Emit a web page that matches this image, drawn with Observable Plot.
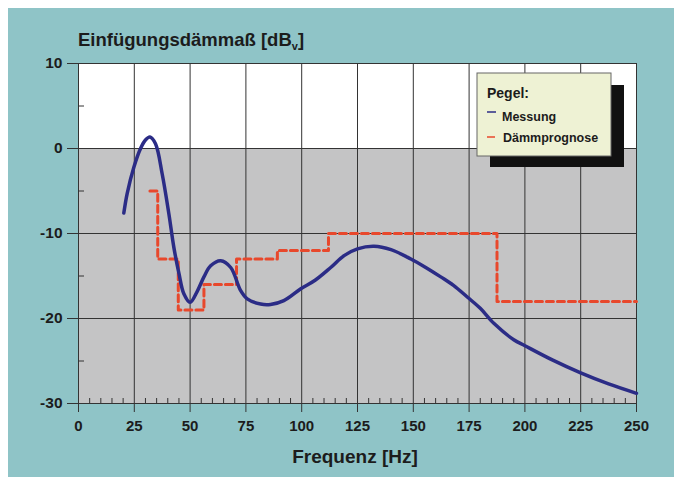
<!DOCTYPE html>
<html><head><meta charset="utf-8">
<script src="https://cdn.jsdelivr.net/npm/d3@7"></script>
<script src="https://cdn.jsdelivr.net/npm/@observablehq/plot@0.6"></script>
<style>
body{margin:0;background:#ffffff;}
#chart{position:relative;width:674px;height:477px;}
</style>
</head><body><div id="chart"></div>
<script>
const messungHz = [20.3, 21.8, 24.8, 27.8, 30, 32, 34.5, 37.5, 40.5, 42.7, 45, 47.2, 50, 53.2, 56.2, 59.2, 63.7, 68.2, 72.6, 75.6, 81.6, 86, 92, 99.6, 106, 113, 119, 125, 132.4, 140, 148.9, 155, 162.3, 168, 174.3, 180, 186.2, 195, 200, 212.5, 225, 237.5, 250];
const messungDb = [-7.6, -5.3, -2.2, 0, 1.0, 1.35, 0.55, -3, -7.7, -11.6, -14.7, -17.1, -18.1, -16.8, -15.1, -13.8, -13.2, -14, -16.7, -17.7, -18.3, -18.35, -17.9, -16.5, -15.5, -14, -12.6, -11.8, -11.5, -11.9, -13, -13.9, -15.1, -16.1, -17.5, -18.8, -20.6, -22.5, -23.2, -24.9, -26.4, -27.7, -28.8];
// Dämmprognose (step forecast)
const prognoseHz = [32, 35.5, 44.7, 56.2, 70.8, 89.1, 112, 187.5, 250];
const prognoseDb = [-5, -13, -19, -16, -13, -12, -10, -18, -18];
// ticks
const xTicks = [0, 25, 50, 75, 100, 125, 150, 175, 200, 225, 250];
const xMinor = [5,10,15,20,30,35,40,45,55,60,65,70,80,85,90,95,105,110,115,120,130,135,140,145,155,160,165,170,180,185,190,195,205,210,215,220,230,235,240,245];
const yTicks = [-30, -20, -10, 0, 10];
const yMinor = [-25, -15, -5, 5];
const titleMain = "Einfügungsdämmaß [dB";
const titleSub = "v";
const xLabel = "Frequenz [Hz]";
const legendTitle = "Pegel:";
const seriesNames = ["Messung", "Dämmprognose"];

const messung = messungHz.map((hz, i) => ({hz, db: messungDb[i]}));
const prognose = prognoseHz.map((hz, i) => ({hz, db: prognoseDb[i]}));
const upper = [{y1: 0, y2: 10}];
const lower = [{y1: -30, y2: 0}];

const BLUE = "#2b2c86", RED = "#e8482c", GRID = "#333333";

const plot = Plot.plot({
  width: 674, height: 477,
  marginLeft: 78, marginRight: 38, marginTop: 63, marginBottom: 74,
  x: {domain: [0, 250]},
  y: {domain: [-30, 10]},
  style: {background: "transparent", fontFamily: "'Liberation Sans', Arial, sans-serif", fontSize: "15px", fontWeight: "bold", color: "#1c1c1c"},
  marks: [
    Plot.rect(upper, {x1: 0, x2: 250, y1: "y1", y2: "y2", fill: "#ffffff"}),
    Plot.rect(lower, {x1: 0, x2: 250, y1: "y1", y2: "y2", fill: "#c4c4c5"}),
    Plot.ruleX(xTicks, {stroke: GRID, strokeWidth: 1}),
    Plot.ruleY(yTicks, {stroke: GRID, strokeWidth: 1}),
    Plot.axisX(xTicks, {tickSize: 9, tickPadding: 8, tickFormat: d => String(d), stroke: GRID, label: null, fontSize: 15}),
    Plot.axisX(xMinor, {tickSize: -5, tickFormat: () => "", stroke: GRID, label: null}),
    Plot.axisY(yTicks, {tickSize: 11, tickPadding: 5, tickFormat: d => String(d), stroke: GRID, label: null, fontSize: 15.5}),
    Plot.axisY(yMinor, {tickSize: -6, tickFormat: () => "", stroke: GRID, label: null}),
    Plot.line(prognose, {x: "hz", y: "db", curve: "step-after", stroke: RED, strokeWidth: 3, strokeDasharray: "7,4"}),
    Plot.line(messung, {x: "hz", y: "db", curve: "catmull-rom", stroke: BLUE, strokeWidth: 3.5})
  ]
});

const svg = d3.select(plot);
svg.insert("rect", ":first-child").attr("x", 8).attr("y", 8).attr("width", 666).attr("height", 469).attr("fill", "#8fc4c7");

const t = svg.append("text").attr("x", 78).attr("y", 46).attr("text-anchor", "start")
  .attr("font-size", 18.5).attr("font-weight", "bold").attr("fill", "#1c1c1c");
t.append("tspan").text(titleMain);
t.append("tspan").text(titleSub).attr("font-size", 11).attr("dy", 4);
t.append("tspan").text("]").attr("dy", -4);

svg.append("text").attr("x", 355).attr("y", 463).attr("text-anchor", "middle")
  .attr("font-size", 19).attr("font-weight", "bold").attr("fill", "#1c1c1c").text(xLabel);

const lg = svg.append("g").attr("text-anchor", "start");
lg.append("rect").attr("x", 490).attr("y", 85).attr("width", 134).attr("height", 82).attr("fill", "#111111");
lg.append("rect").attr("x", 477).attr("y", 73).attr("width", 134).attr("height", 83).attr("fill", "#eef2d4").attr("stroke", "#666").attr("stroke-width", 1);
lg.append("text").attr("x", 487).attr("y", 98).attr("font-size", 14).attr("font-weight", "bold").attr("fill", "#1c1c1c").text(legendTitle);
lg.append("line").attr("x1", 487).attr("x2", 496).attr("y1", 112).attr("y2", 112).attr("stroke", BLUE).attr("stroke-width", 1.5);
lg.append("text").attr("x", 502).attr("y", 121).attr("font-size", 12.5).attr("font-weight", "bold").attr("fill", "#1c1c1c").text(seriesNames[0]);
lg.append("line").attr("x1", 487).attr("x2", 495).attr("y1", 137).attr("y2", 137).attr("stroke", RED).attr("stroke-width", 1.5);
lg.append("text").attr("x", 503).attr("y", 142).attr("font-size", 12.5).attr("font-weight", "bold").attr("fill", "#1c1c1c").text(seriesNames[1]);

document.getElementById("chart").appendChild(plot);
</script>
</body></html>
